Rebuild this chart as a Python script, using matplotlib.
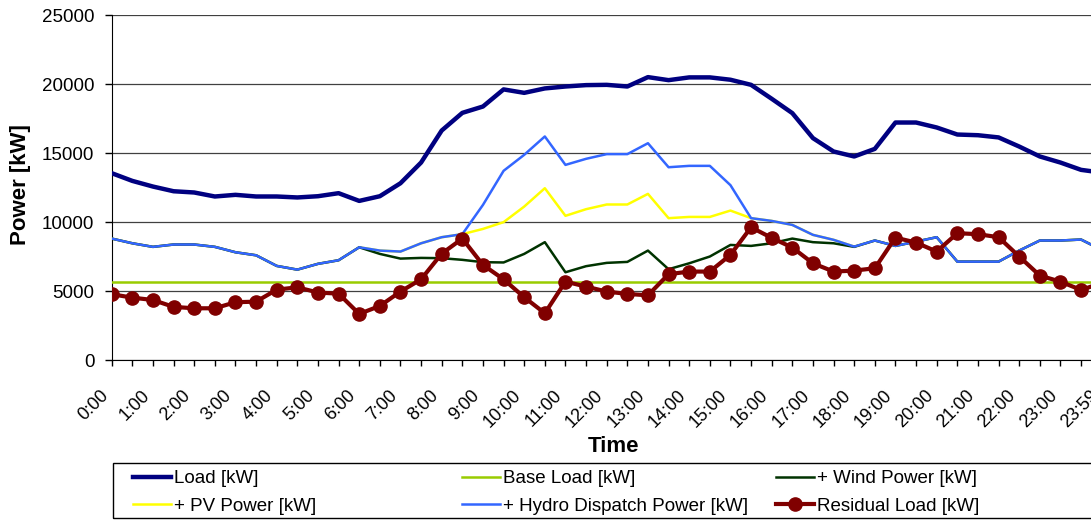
import matplotlib
matplotlib.use("Agg")
import matplotlib.pyplot as plt
from matplotlib.patches import Rectangle
from matplotlib.transforms import ScaledTranslation

plt.rcParams['font.family'] = ['Liberation Sans', 'DejaVu Sans']

# half-hour categories, last one is 23:59
times = ['%d:%s' % (h, m) for h in range(24) for m in ('00', '30')] + ['23:59']

load = [13560, 13000, 12590, 12250, 12160, 11870, 11990, 11870, 11870, 11800,
        11890, 12110, 11550, 11890, 12830, 14330, 16650, 17930, 18390, 19630,
        19380, 19700, 19840, 19940, 19960, 19840, 20520, 20300, 20500, 20500,
        20330, 19960, 18950, 17910, 16100, 15130, 14770, 15320, 17230, 17230,
        16870, 16360, 16310, 16150, 15490, 14770, 14330, 13800, 13600]
base_load = [5650] * 49
wind = [8820, 8480, 8220, 8390, 8390, 8220, 7830, 7610, 6840, 6570,
        6990, 7250, 8190, 7710, 7370, 7420, 7400, 7280, 7110, 7090,
        7710, 8560, 6380, 6820, 7060, 7130, 7950, 6600, 7030, 7520,
        8360, 8290, 8480, 8820, 8560, 8480, 8220, 8680, 8290, 8600,
        8920, 7150, 7150, 7150, 7950, 8680, 8680, 8750, 8000]
pv = [8820, 8480, 8220, 8390, 8390, 8220, 7830, 7610, 6840, 6570,
      6990, 7250, 8190, 7950, 7880, 8480, 8920, 9140, 9520, 10010,
      11140, 12470, 10470, 10950, 11290, 11290, 12060, 10300, 10390, 10390,
      10850, 10300, 10100, 9810, 9090, 8730, 8240, 8680, 8290, 8600,
      8920, 7150, 7150, 7150, 7950, 8680, 8680, 8750, 8000]
hydro = [8820, 8480, 8220, 8390, 8390, 8220, 7830, 7610, 6840, 6570,
         6990, 7250, 8190, 7950, 7880, 8480, 8920, 9140, 11260, 13730,
         14890, 16220, 14160, 14600, 14940, 14940, 15730, 13990, 14090, 14090,
         12690, 10300, 10100, 9810, 9090, 8730, 8240, 8680, 8290, 8600,
         8920, 7150, 7150, 7150, 7950, 8680, 8680, 8750, 8000]
residual = [4790, 4540, 4370, 3870, 3770, 3770, 4210, 4250, 5120, 5290,
            4910, 4830, 3360, 3940, 4980, 5870, 7730, 8820, 6910, 5870,
            4570, 3410, 5700, 5340, 4980, 4810, 4710, 6240, 6430, 6430,
            7640, 9640, 8870, 8170, 7030, 6430, 6500, 6670, 8890, 8530,
            7880, 9210, 9140, 8920, 7520, 6140, 5700, 5100, 5600]

x = list(range(len(times)))

fig = plt.figure(figsize=(10.91, 5.2), dpi=100)
# the original picture is cut at the right edge, so the axes run past it
ax = fig.add_axes([0.1024, 0.3071, 0.9074, 0.6635])

l_load, = ax.plot(x, load, color='#000080', lw=3.2, zorder=3, label='Load [kW]')
l_base, = ax.plot(x, base_load, color='#99CC00', lw=1.8, zorder=3, label='Base Load [kW]')
l_pv, = ax.plot(x, pv, color='#FFFF00', lw=1.8, zorder=3, label='+ PV Power [kW]')
l_wind, = ax.plot(x, wind, color='#003300', lw=1.8, zorder=4, label='+ Wind Power [kW]')
l_hydro, = ax.plot(x, hydro, color='#3366FF', lw=1.8, zorder=5, label='+ Hydro Dispatch Power [kW]')
l_res, = ax.plot(x, residual, color='#800000', lw=3.0, marker='o', markersize=9.5,
                 zorder=6, label='Residual Load [kW]')

ax.set_xlim(0, 48)
ax.set_ylim(0, 25000)
ax.set_yticks(range(0, 25001, 5000))
ax.yaxis.grid(True, color='#404040', lw=0.9)
ax.set_axisbelow(True)
for s in ['top', 'right']:
    ax.spines[s].set_visible(False)

ax.set_xticks(x)
ax.set_xticklabels([t if i % 2 == 0 else '' for i, t in enumerate(times)],
                   rotation=45, ha='right', va='top', fontsize=13)
shift = ScaledTranslation(-5 / 100, 0, fig.dpi_scale_trans)
for lab in ax.get_xticklabels():
    lab.set_transform(lab.get_transform() + shift)
ax.tick_params(axis='x', direction='out', length=4, width=1, pad=15)
ax.tick_params(axis='y', direction='out', length=5, width=1, pad=7.5, labelsize=13.5)

ax.set_xlabel('Time', fontsize=16, fontweight='bold', va='center')
ax.xaxis.set_label_coords(0.507, -0.251)
ax.set_ylabel('Power [kW]', fontsize=16, fontweight='bold', va='center')
ax.yaxis.set_label_coords(-0.0926, 0.508)

# legend box under the chart, three columns of two entries
W, H = 1091.0, 520.0
fig.patches.append(Rectangle((113 / W, 2 / H), 1.0, 55 / H, transform=fig.transFigure,
                             fill=False, edgecolor='black', lw=1.0))
cols = [([l_load, l_pv], 133), ([l_base, l_hydro], 462), ([l_wind, l_res], 776)]
for handles, xpix in cols:
    fig.legend(handles=handles, loc='upper left', bbox_to_anchor=(xpix / W, 1 - 470 / H),
               frameon=False, fontsize=13.5, borderpad=0, borderaxespad=0,
               handlelength=2.0, handletextpad=0.2, labelspacing=0.55)

fig.savefig('out.png', dpi=100)
